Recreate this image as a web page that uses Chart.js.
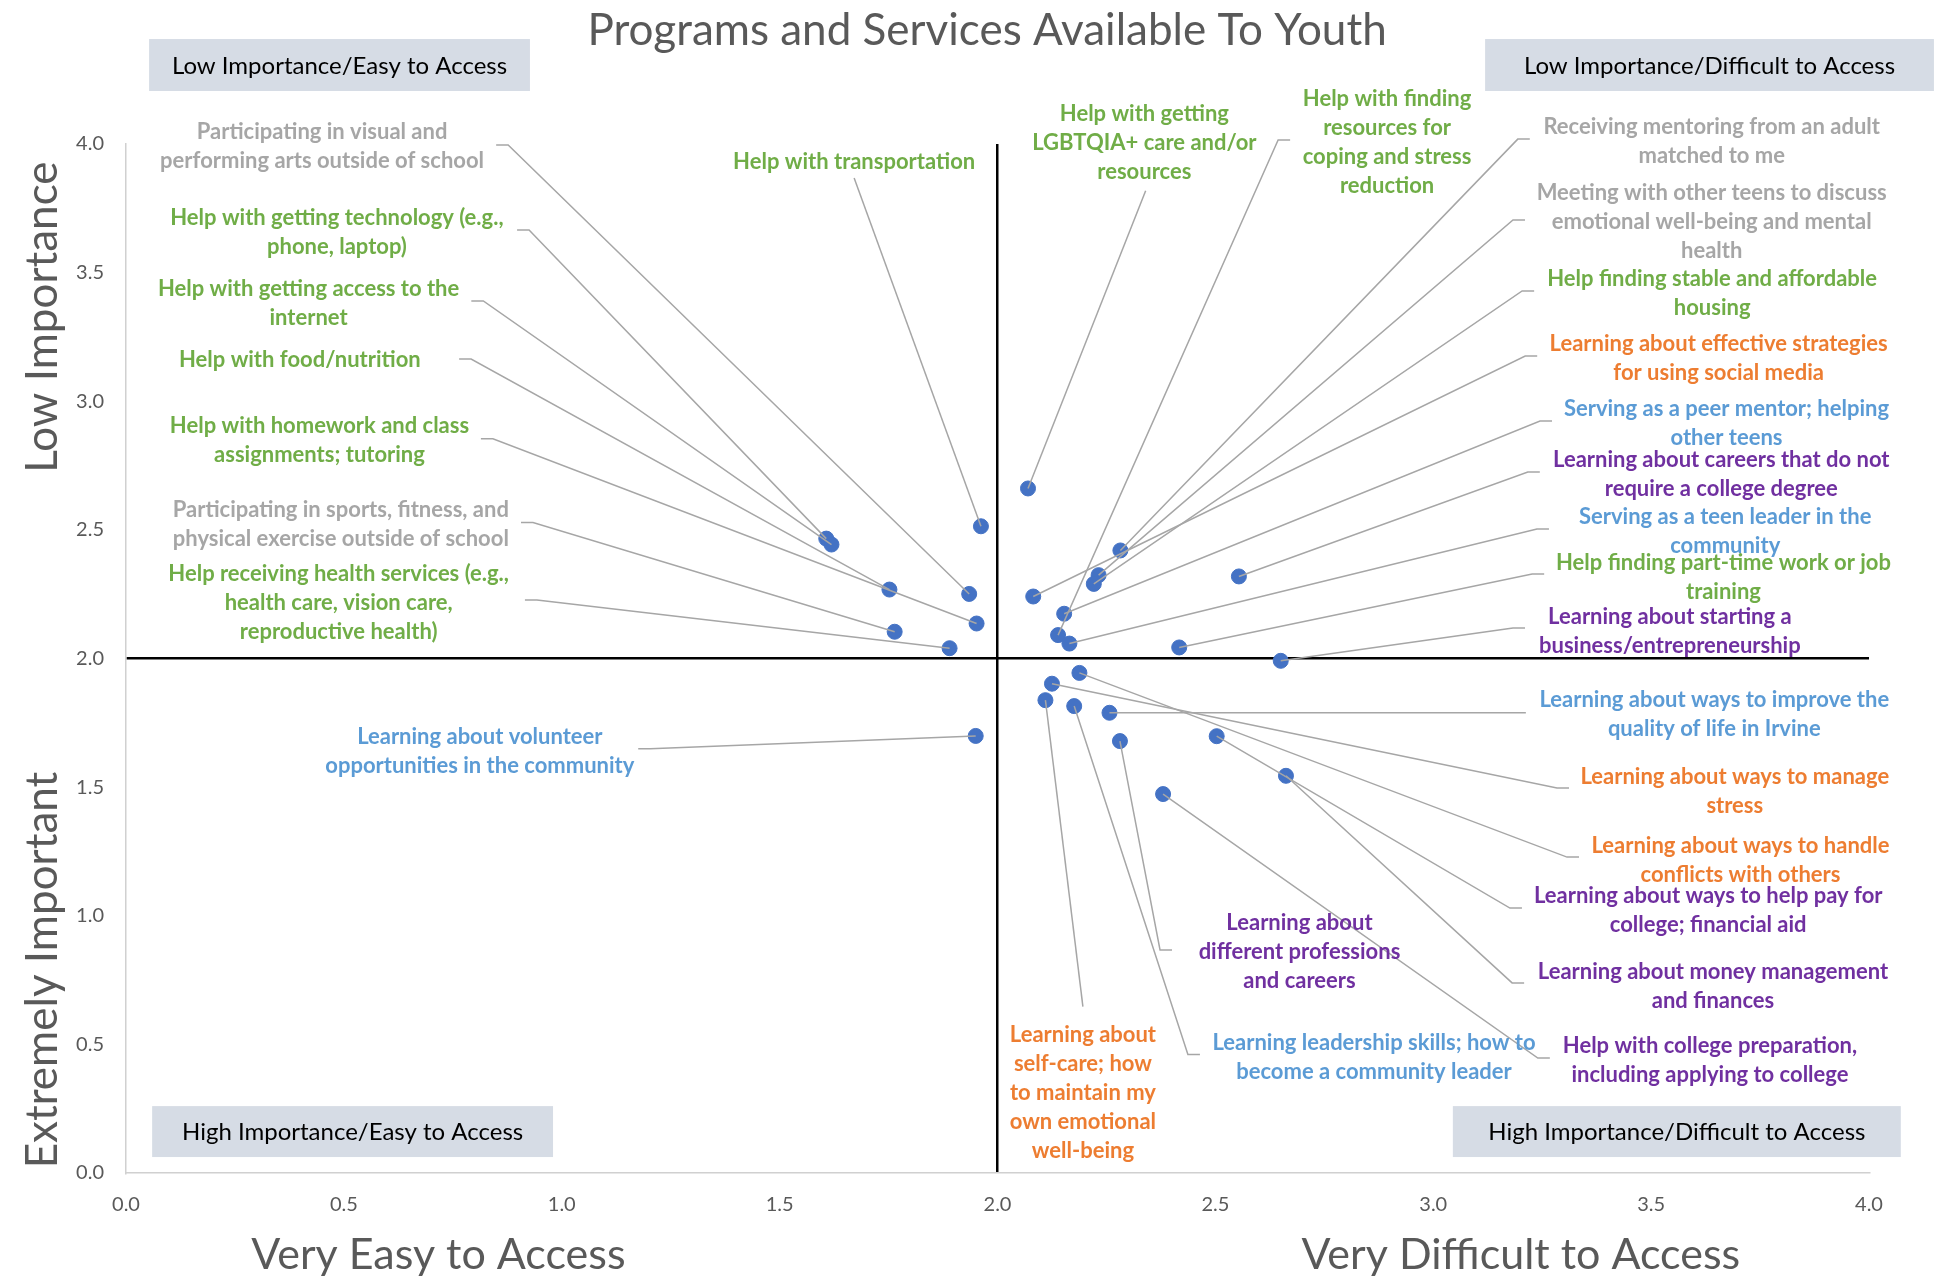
<!DOCTYPE html>
<html>
<head>
<meta charset="utf-8">
<title>Programs and Services Available To Youth</title>
<script src="https://cdn.jsdelivr.net/npm/chart.js@4.4.1/dist/chart.umd.min.js"></script>
<style>
  html, body { margin: 0; padding: 0; background: #fff; }
  #wrap { width: 1934px; height: 1282px; }
</style>
</head>
<body>
<div id="wrap"><canvas id="quadChart" width="1934" height="1282"></canvas></div>
<script>
// ---- data ----
const programs = [
  "Participating in visual and\nperforming arts outside of school",
  "Help with getting technology (e.g.,\nphone, laptop)",
  "Help with getting access to the\ninternet",
  "Help with food/nutrition",
  "Help with homework and class\nassignments; tutoring",
  "Participating in sports, fitness, and\nphysical exercise outside of school",
  "Help receiving health services (e.g.,\nhealth care, vision care,\nreproductive health)",
  "Help with transportation",
  "Help with getting\nLGBTQIA+ care and/or\nresources",
  "Help with finding\nresources for\ncoping and stress\nreduction",
  "Receiving mentoring from an adult\nmatched to me",
  "Meeting with other teens to discuss\nemotional well-being and mental\nhealth",
  "Help finding stable and affordable\nhousing",
  "Learning about effective strategies\nfor using social media",
  "Serving as a peer mentor; helping\nother teens",
  "Learning about careers that do not\nrequire a college degree",
  "Serving as a teen leader in the\ncommunity",
  "Help finding part-time work or job\ntraining",
  "Learning about starting a\nbusiness/entrepreneurship",
  "Learning about volunteer\nopportunities in the community",
  "Learning about ways to improve the\nquality of life in Irvine",
  "Learning about ways to manage\nstress",
  "Learning about ways to handle\nconflicts with others",
  "Learning about ways to help pay for\ncollege; financial aid",
  "Learning about money management\nand finances",
  "Help with college preparation,\nincluding applying to college",
  "Learning leadership skills; how to\nbecome a community leader",
  "Learning about\ndifferent professions\nand careers",
  "Learning about\nself-care; how\nto maintain my\nown emotional\nwell-being"
];
// ease of access (0 = very easy, 4 = very difficult)
const access = [1.935, 1.607, 1.619, 1.752, 1.952, 1.764, 1.890, 1.962,
                2.070, 2.139, 2.282, 2.232, 2.221, 2.082, 2.153, 2.554, 2.165, 2.417, 2.650,
                1.950, 2.257, 2.125, 2.188, 2.503, 2.662, 2.380, 2.176, 2.281, 2.110];
// importance (0 = extremely important, 4 = low importance)
const importance = [2.251, 2.466, 2.443, 2.268, 2.136, 2.104, 2.040, 2.514,
                    2.661, 2.091, 2.420, 2.324, 2.290, 2.241, 2.174, 2.319, 2.058, 2.043, 1.991,
                    1.699, 1.789, 1.902, 1.944, 1.698, 1.544, 1.473, 1.815, 1.679, 1.838];
const groups = ["gray", "green", "green", "green", "green", "gray", "green", "green",
                "green", "green", "gray", "gray", "green", "orange", "blue", "purple", "blue", "green", "purple",
                "blue", "blue", "orange", "orange", "purple", "purple", "purple", "blue", "purple", "orange"];
const tickValues = [0, 0.5, 1, 1.5, 2, 2.5, 3, 3.5, 4];
const quadrants = ["Low Importance/Easy to Access", "Low Importance/Difficult to Access",
                   "High Importance/Easy to Access", "High Importance/Difficult to Access"];

// ---- layout (in axis units) ----
const groupColors = { gray: "#A6A6A6", green: "#70AD47", orange: "#ED7D31", blue: "#5B9BD5", purple: "#7030A0" };
// [textX, textY, elbowX, elbowY, tick side]
const labelLayout = [
  [0.450, 3.989, 0.877, 3.996, "L"],
  [0.484, 3.658, 0.925, 3.666, "L"],
  [0.419, 3.380, 0.820, 3.390, "L"],
  [0.399, 3.160, 0.792, 3.164, "L"],
  [0.444, 2.848, 0.842, 2.854, "L"],
  [0.493, 2.522, 0.934, 2.529, "L"],
  [0.488, 2.217, 0.943, 2.227, "L"],
  [1.671, 3.931, 1.671, 3.868, null],
  [2.337, 4.005, 2.340, 3.818, null],
  [2.894, 4.008, 2.644, 4.016, "R"],
  [3.639, 4.010, 3.194, 4.019, "R"],
  [3.639, 3.696, 3.183, 3.705, "R"],
  [3.640, 3.418, 3.204, 3.429, "R"],
  [3.655, 3.165, 3.211, 3.176, "R"],
  [3.673, 2.912, 3.245, 2.923, "R"],
  [3.661, 2.715, 3.217, 2.725, "R"],
  [3.670, 2.493, 3.238, 2.503, "R"],
  [3.666, 2.317, 3.227, 2.328, "R"],
  [3.543, 2.107, 3.183, 2.119, "R"],
  [0.812, 1.638, 1.203, 1.649, "L"],
  [3.645, 1.784, 3.185, 1.789, "R"],
  [3.692, 1.484, 3.284, 1.497, "R"],
  [3.705, 1.216, 3.307, 1.228, "R"],
  [3.631, 1.021, 3.176, 1.030, "R"],
  [3.642, 0.726, 3.181, 0.739, "R"],
  [3.635, 0.436, 3.240, 0.447, "R"],
  [2.864, 0.448, 2.437, 0.461, "R"],
  [2.693, 0.858, 2.373, 0.867, "R"],
  [2.196, 0.310, 2.196, 0.647, null]
];
// [x0, y0, x1, y1] boxes for the quadrant captions
const quadrantBoxes = [
  [0.053, 4.408, 0.927, 4.206],
  [3.119, 4.408, 4.149, 4.206],
  [0.060, 0.260, 0.980, 0.062],
  [3.045, 0.260, 4.073, 0.062]
];

const FONT = "Lato, 'Open Sans', sans-serif";
const GREY_TEXT = "#595959";

const quadrantNotes = {
  id: "quadrantNotes",
  afterDatasetsDraw(chart) {
    const { ctx, scales: { x, y } } = chart;
    const meta = chart.getDatasetMeta(0);
    ctx.save();

    // leader lines from each point to its label
    ctx.strokeStyle = "#A6A6A6";
    ctx.lineWidth = 1.5;
    labelLayout.forEach((l, i) => {
      const pt = meta.data[i];
      const ex = x.getPixelForValue(l[2]);
      const ey = y.getPixelForValue(l[3]);
      ctx.beginPath();
      ctx.moveTo(pt.x, pt.y);
      ctx.lineTo(ex, ey);
      if (l[4]) ctx.lineTo(ex + (l[4] === "R" ? 12 : -12), ey);
      ctx.stroke();
    });

    // the labels
    ctx.font = `bold 22px ${FONT}`;
    ctx.textAlign = "center";
    ctx.textBaseline = "middle";
    const lh = 29;
    programs.forEach((name, i) => {
      const lines = name.split("\n");
      const cx = x.getPixelForValue(labelLayout[i][0]);
      const cy = y.getPixelForValue(labelLayout[i][1]);
      ctx.fillStyle = groupColors[groups[i]];
      lines.forEach((t, k) => {
        ctx.fillText(t, cx, cy + (k - (lines.length - 1) / 2) * lh);
      });
    });
    ctx.restore();
  },
  afterDraw(chart) {
    const { ctx, scales: { x, y } } = chart;
    ctx.save();

    // quadrant captions
    ctx.font = `24px ${FONT}`;
    ctx.textAlign = "center";
    ctx.textBaseline = "middle";
    quadrants.forEach((q, i) => {
      const b = quadrantBoxes[i];
      const x0 = x.getPixelForValue(b[0]), x1 = x.getPixelForValue(b[2]);
      const y0 = y.getPixelForValue(b[1]), y1 = y.getPixelForValue(b[3]);
      ctx.fillStyle = "#D6DCE5";
      ctx.fillRect(x0, y0, x1 - x0, y1 - y0);
      ctx.fillStyle = "#000";
      ctx.fillText(q, (x0 + x1) / 2, (y0 + y1) / 2 + 1);
    });

    // chart title
    ctx.fillStyle = GREY_TEXT;
    ctx.font = `44px ${FONT}`;
    ctx.fillText("Programs and Services Available To Youth", x.getPixelForValue(1.976), y.getPixelForValue(4.439));

    // axis end captions
    ctx.font = `43px ${FONT}`;
    ctx.fillText("Very Easy to Access", x.getPixelForValue(0.717), y.getPixelForValue(-0.319));
    ctx.fillText("Very Difficult to Access", x.getPixelForValue(3.201), y.getPixelForValue(-0.319));
    ctx.font = `44px ${FONT}`;
    const ax = x.getPixelForValue(-0.190);
    [["Low Importance", 3.327], ["Extremely Important", 0.789]].forEach(([t, v]) => {
      ctx.save();
      ctx.translate(ax, y.getPixelForValue(v));
      ctx.rotate(-Math.PI / 2);
      ctx.fillText(t, 0, 0);
      ctx.restore();
    });
    ctx.restore();
  }
};

const centreLine = (c) => (c.tick && c.tick.value === 2 ? "#000000" : "rgba(0,0,0,0)");

new Chart(document.getElementById("quadChart").getContext("2d"), {
  type: "scatter",
  data: {
    datasets: [{
      label: "Programs",
      data: access.map((a, i) => ({ x: a, y: importance[i] })),
      backgroundColor: "#4472C4",
      borderColor: "#4472C4",
      pointRadius: 7.5,
      pointHoverRadius: 7.5
    }]
  },
  options: {
    responsive: false,
    animation: false,
    layout: { padding: { top: 144, right: 65, left: 0, bottom: 0 } },
    plugins: { legend: { display: false }, tooltip: { enabled: false } },
    scales: {
      x: {
        type: "linear", min: 0, max: 4,
        afterBuildTicks: (s) => { s.ticks = tickValues.map((v) => ({ value: v })); },
        afterFit: (s) => { s.height = 109; },
        ticks: { callback: (v) => Number(v).toFixed(1), color: GREY_TEXT, font: { family: FONT, size: 20 }, padding: 20, maxRotation: 0, autoSkip: false },
        grid: { color: centreLine, lineWidth: 2.5, drawTicks: false },
        border: { display: true, color: "#D0D0D0", width: 1.5 }
      },
      y: {
        type: "linear", min: 0, max: 4,
        afterBuildTicks: (s) => { s.ticks = tickValues.map((v) => ({ value: v })); },
        afterFit: (s) => { s.width = 126; },
        ticks: { callback: (v) => Number(v).toFixed(1), color: GREY_TEXT, font: { family: FONT, size: 20 }, padding: 22, autoSkip: false },
        grid: { color: centreLine, lineWidth: 2.5, drawTicks: false },
        border: { display: true, color: "#D0D0D0", width: 1.5 }
      }
    }
  },
  plugins: [quadrantNotes]
});
</script>
</body>
</html>
